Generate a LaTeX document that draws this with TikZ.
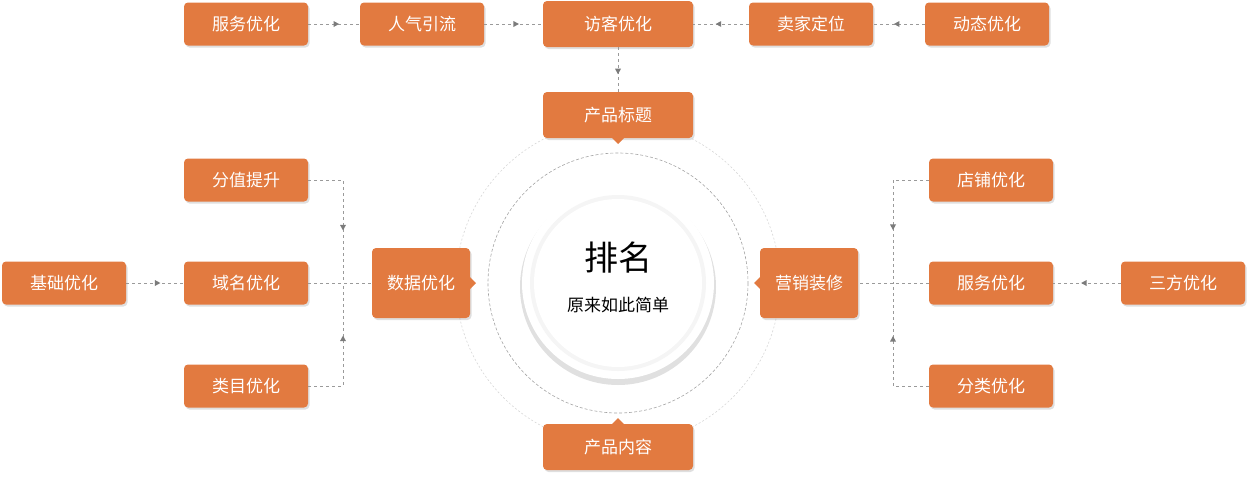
\documentclass[tikz,border=0pt]{standalone}
\usepackage{fontspec}
\newfontfamily\cjk{Noto Sans CJK SC}
\usetikzlibrary{decorations.markings,shadows,arrows.meta}
\definecolor{org}{HTML}{E27A40}
\definecolor{ln}{HTML}{9A9A9A}
\tikzset{
 x=1pt,y=-1pt,
 box/.style={fill=org,rounded corners=4pt,text=white,font=\cjk\fontsize{17}{20}\selectfont,minimum width=124pt,minimum height=43pt,inner sep=0pt,drop shadow={shadow xshift=1.5pt,shadow yshift=-2pt,opacity=0.25}},
 wide/.style={minimum width=150pt,minimum height=46pt},
 mid/.style={minimum width=98pt,minimum height=70pt},
 con/.style={draw=ln,dashed,dash pattern=on 3pt off 3pt,line width=0.6pt},
 arr/.style={postaction={decorate},decoration={markings,mark=at position #1 with {\fill[ln!80!black] (2.5pt,0)--(-3pt,3pt)--(-3pt,-3pt)--cycle;}}},
}
\begin{document}
\begin{tikzpicture}
\useasboundingbox (0,0) rectangle (1253,480);
% circles
\draw[ln!40,dashed,dash pattern=on 2pt off 2pt,line width=0.6pt] (618,283) circle (162);
\draw[ln!90,dashed,dash pattern=on 3pt off 2pt,line width=0.6pt] (618,283) circle (130);
\fill[black!12] (618,287) circle (98);
\fill[white] (618,283) circle (96);
\fill[black!4] (618,283) circle (88);
\fill[white] (618,283) circle (84);
\node (t1) at (618,258) {\cjk\fontsize{34}{38}\selectfont 排名};
\node (t2) at (618,305) {\cjk\fontsize{17}{20}\selectfont 原来如此简单};
% top row
\node[box] (a1) at (246,24) {服务优化};
\node[box] (a2) at (422,24) {人气引流};
\node[box,wide] (a3) at (618,24) {访客优化};
\node[box] (a4) at (811,24) {卖家定位};
\node[box] (a5) at (987,24) {动态优化};
\node[box,wide] (pt) at (618,115) {产品标题};
\node[box,wide] (pc) at (618,447) {产品内容};
\fill[org] (612,138)--(624,138)--(618,144)--cycle;
\fill[org] (612,424)--(624,424)--(618,418)--cycle;
% left
\node[box] (l1) at (246,180) {分值提升};
\node[box] (l2) at (246,283) {域名优化};
\node[box] (l3) at (246,386) {类目优化};
\node[box] (l0) at (64,283) {基础优化};
\node[box,mid] (ld) at (421,283) {数据优化};
\fill[org] (470,277)--(470,289)--(476,283)--cycle;
% right
\node[box] (r1) at (991,180) {店铺优化};
\node[box] (r2) at (991,283) {服务优化};
\node[box] (r3) at (991,386) {分类优化};
\node[box] (r0) at (1183,283) {三方优化};
\node[box,mid] (rd) at (809,283) {营销装修};
\fill[org] (760,277)--(760,289)--(754,283)--cycle;
% connectors
\draw[con,arr=0.55] (a1) -- (a2);
\draw[con,arr=0.55] (a2) -- (a3);
\draw[con,arr=0.55] (a5) -- (a4);
\draw[con,arr=0.55] (a4) -- (a3);
\draw[con,arr=0.55] (a3) -- (pt);
\draw[con,arr=0.55] (l0) -- (l2);
\draw[con] (l2) -- (ld);
\coordinate (lj) at (343,283);
\coordinate (rj) at (893,283);
\draw[con,arr=0.6] (l1.east) -| (lj);
\draw[con,arr=0.6] (l3.east) -| (lj);
\draw[con,arr=0.55] (r0) -- (r2);
\draw[con] (r2) -- (rd);
\draw[con,arr=0.6] (r1.west) -| (rj);
\draw[con,arr=0.6] (r3.west) -| (rj);
\end{tikzpicture}
\end{document}
